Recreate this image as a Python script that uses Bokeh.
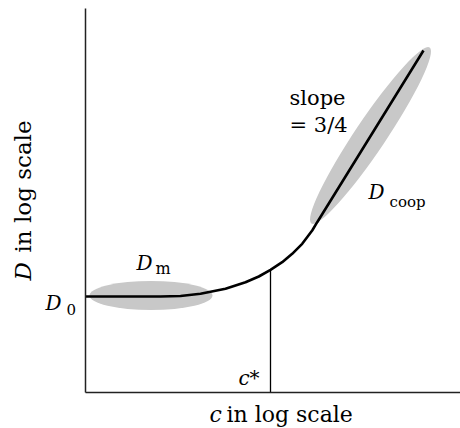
import numpy as np
from bokeh.plotting import figure
from bokeh.models import Range1d, Label, LinearAxis
from bokeh.embed import file_html
from bokeh.resources import INLINE

# curve (log c, log D in arbitrary units)
log_c = [0, 75, 95, 115, 125, 140, 160, 173.3, 185, 196.7, 206.7, 216.7, 226.7, 231.7, 338]
log_D = [96, 96, 96.5, 98.7, 100.7, 103.7, 110.3, 116, 122.7, 130.3, 138.7, 148.7, 162, 170.3, 342]

# crossover concentration c*
c_star = 185

# shaded regimes: centre x, centre y, length, thickness, tilt (rad)
reg_x = [65.5, 285]
reg_y = [97, 257]
reg_w = [123, 212]
reg_h = [29, 31]
reg_a = [0.0, 0.979]

FONT = "DejaVu Serif"

p = figure(width=460, height=428, output_backend="svg", toolbar_location=None,
           x_range=Range1d(-85, 375), y_range=Range1d(-36, 392),
           x_axis_location=None, y_axis_location=None,
           min_border_left=0, min_border_right=0, min_border_top=0, min_border_bottom=0)
p.outline_line_color = None
p.grid.visible = False
p.background_fill_color = "white"

xax = LinearAxis(fixed_location=0, bounds=(0, 375))
yax = LinearAxis(fixed_location=0, bounds=(0, 384))
for ax in (xax, yax):
    ax.major_tick_line_color = None
    ax.minor_tick_line_color = None
    ax.major_tick_in = 0
    ax.major_tick_out = 0
    ax.minor_tick_in = 0
    ax.minor_tick_out = 0
    ax.major_label_standoff = 0
    ax.major_label_text_font_size = "0px"
    ax.major_label_text_color = None
    ax.axis_line_color = "#222222"
    ax.axis_line_width = 1.5
    ax.axis_label = None
p.add_layout(xax, "above")
p.add_layout(yax, "right")

p.ellipse(x=reg_x, y=reg_y, width=reg_w, height=reg_h, angle=reg_a,
          fill_color="#c8c8c8", line_color=None)

top = float(np.interp(c_star, log_c, log_D))
p.segment(x0=[c_star], y0=[0], x1=[c_star], y1=[top], line_color="black", line_width=1.3)

p.line(log_c, log_D, line_color="black", line_width=2.6)

def lab(x, y, t, size, style="normal", angle=0.0):
    p.add_layout(Label(x=x, y=y, text=t, text_font=FONT, text_font_size=f"{size}px",
                       text_font_style=style, text_baseline="alphabetic",
                       text_align="left", angle=angle, text_color="black"))

# axis titles
lab(124, -22, "c", 22, "italic")
lab(141, -22, "in log scale", 22)
lab(-63, 112, "D", 23, "italic", np.pi / 2)
lab(-63, 140, "in log scale", 23, "normal", np.pi / 2)

# annotations
lab(-40, 90, "D", 20, "italic")
lab(-19, 83, "0", 15)
lab(51, 130, "D", 20, "italic")
lab(70, 124, "m", 16)
lab(204, 295, "slope", 21)
lab(204, 268, "= 3/4", 21)
lab(283, 201, "D", 20, "italic")
lab(304, 191, "coop", 15)
lab(153, 15, "c", 20, "italic")
lab(164, 15, "*", 20)

open("out.html", "w").write(file_html(p, INLINE))
